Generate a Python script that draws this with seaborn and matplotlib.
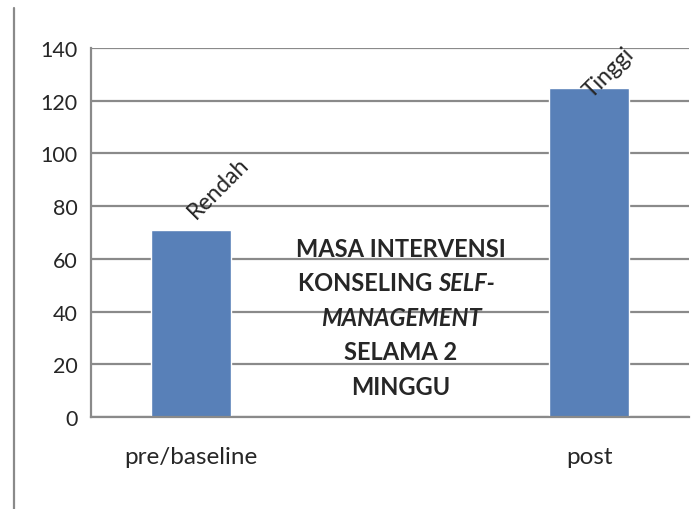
import seaborn as sns
import matplotlib
matplotlib.use('Agg')
import matplotlib.pyplot as plt
from matplotlib.lines import Line2D

# data
phases = ['pre/baseline', 'post']
scores = [71, 125]
levels = ['Rendah', 'Tinggi']
slot_order = ['pre/baseline', ' ', 'post']   # empty middle slot for the note
yticks = [0, 20, 40, 60, 80, 100, 120, 140]
note_lines = [('MASA INTERVENSI', ''),
              ('KONSELING ', 'SELF-'),
              ('', 'MANAGEMENT'),
              ('SELAMA 2', ''),
              ('MINGGU', '')]

sns.set_style('white')
plt.rcParams['font.family'] = ['Lato', 'DejaVu Sans']
grey = '#8a8a8a'

fig = plt.figure(figsize=(6.91, 5.10), dpi=100)
ax = fig.add_axes([91/691, 1 - 418/510, 598/691, 369/510])

sns.barplot(x=phases, y=scores, order=slot_order, color='#5880B8',
            saturation=1, width=0.4, ax=ax)

ax.set_ylim(0, 140)
ax.set_xlim(-0.5, 2.5)
ax.set_yticks(yticks)
ax.yaxis.grid(True, color=grey, linewidth=1.6)
ax.set_axisbelow(True)
for s in ['top', 'right']:
    ax.spines[s].set_visible(False)
for s in ['left', 'bottom']:
    ax.spines[s].set_color(grey)
    ax.spines[s].set_linewidth(1.6)

ax.tick_params(axis='y', length=6.5, width=1.6, color=grey, labelsize=15.5, pad=3)
ax.tick_params(axis='x', which='major', length=0, labelsize=17.5, pad=21)
ax.set_xticks([-0.5, 0.5, 1.5, 2.5], minor=True)
ax.tick_params(axis='x', which='minor', length=5.5, width=1.6, color=grey)
ax.set_xlabel('')
ax.set_ylabel('')

# bar labels (Excel nudged the second one down to stay inside the frame)
label_offsets = [(4, 8), (2, -7.5)]
for i, (name, v) in enumerate(zip(levels, scores)):
    pos = slot_order.index(phases[i])
    ax.annotate(name, (pos, v), xytext=label_offsets[i], textcoords='offset points',
                rotation=45, rotation_mode='anchor', ha='left', va='baseline',
                fontsize=16.5)

# centre note, mixed upright / italic bold
split_x = 1.24
for j, (plain, ital) in enumerate(note_lines):
    y = 64 - j * 13.1
    if plain and ital:
        ax.text(split_x, y, plain, ha='right', va='center', fontsize=17,
                fontweight='bold')
        ax.text(split_x, y, ital, ha='left', va='center', fontsize=17,
                fontweight='bold', style='italic')
    else:
        ax.text(1.055, y, plain or ital, ha='center', va='center',
                fontsize=17, fontweight='bold',
                style='italic' if ital else 'normal')

# left frame line
fig.add_artist(Line2D([14/691, 14/691], [0, 1 - 9/510], color=grey, linewidth=1.6))

fig.savefig('out.png', dpi=100)
